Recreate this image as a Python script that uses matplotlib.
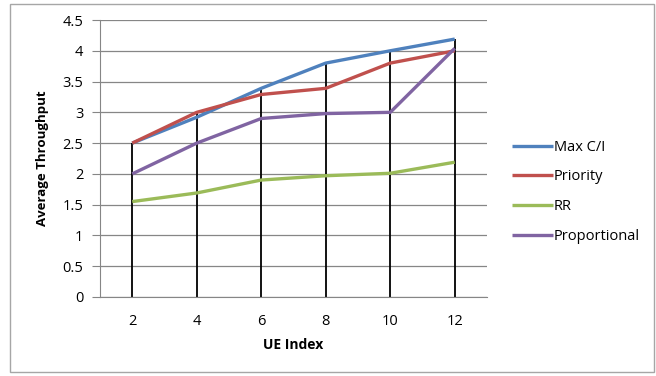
import matplotlib
matplotlib.use("Agg")
import matplotlib.pyplot as plt
from matplotlib.patches import Rectangle
import numpy as np

ue_index = [2, 4, 6, 8, 10, 12]
max_ci = [2.5, 2.92, 3.39, 3.8, 4.0, 4.19]
priority = [2.5, 3.0, 3.29, 3.39, 3.8, 4.0]
rr = [1.55, 1.69, 1.9, 1.97, 2.01, 2.19]
proportional = [2.0, 2.5, 2.9, 2.98, 3.0, 4.04]
series_names = ["Max C/I", "Priority", "RR", "Proportional"]
colors = ["#4F81BD", "#C0504D", "#9BBB59", "#8064A2"]
y_ticks = [0, 0.5, 1, 1.5, 2, 2.5, 3, 3.5, 4, 4.5]
y_tick_labels = ["0", "0.5", "1", "1.5", "2", "2.5", "3", "3.5", "4", "4.5"]

plt.rcParams['font.family'] = ['Open Sans', 'DejaVu Sans']

fig = plt.figure(figsize=(6.56, 3.76), dpi=100)
fig.patches.append(Rectangle((10/656, 4/376), 644/656, 368/376, transform=fig.transFigure,
                             fill=False, edgecolor="#A6A6A6", linewidth=1.0))
ax = fig.add_axes([100/656, 1 - 297/376, 387/656, 277/376])

all_series = [max_ci, priority, rr, proportional]
tops = np.max(np.array(all_series), axis=0)
ax.vlines(ue_index, 0, tops, colors="black", linewidth=1.3, zorder=2)

for vals, name, c in zip(all_series, series_names, colors):
    ax.plot(ue_index, vals, color=c, linewidth=2.4, label=name, zorder=3,
            solid_capstyle='butt')

ax.set_xlim(1, 13)
ax.set_ylim(0, 4.5)
ax.set_yticks(y_ticks)
ax.set_yticklabels(y_tick_labels)
ax.set_xticks(ue_index)
ax.set_xticklabels([str(v) for v in ue_index])
ax.yaxis.grid(True, color="#868686", linewidth=0.9)
ax.set_axisbelow(True)
for s in ["top", "right"]:
    ax.spines[s].set_visible(False)
ax.spines["left"].set_color("#868686")
ax.spines["bottom"].set_color("#868686")
ax.tick_params(axis="y", length=6, color="#868686", labelsize=10.5, pad=6)
ax.tick_params(axis="x", length=0, labelsize=10.5, pad=12)

ax.set_xlabel("UE Index", fontsize=10, fontweight="bold", labelpad=7)
ax.set_ylabel("Average Throughput", fontsize=9.5, fontweight="bold", labelpad=10)

ax.legend(loc="center left", bbox_to_anchor=(1.03, 0.38), frameon=False,
          fontsize=10.5, handlelength=2.8, handletextpad=0.1, labelspacing=1.0)

fig.savefig("out.png", dpi=100)
